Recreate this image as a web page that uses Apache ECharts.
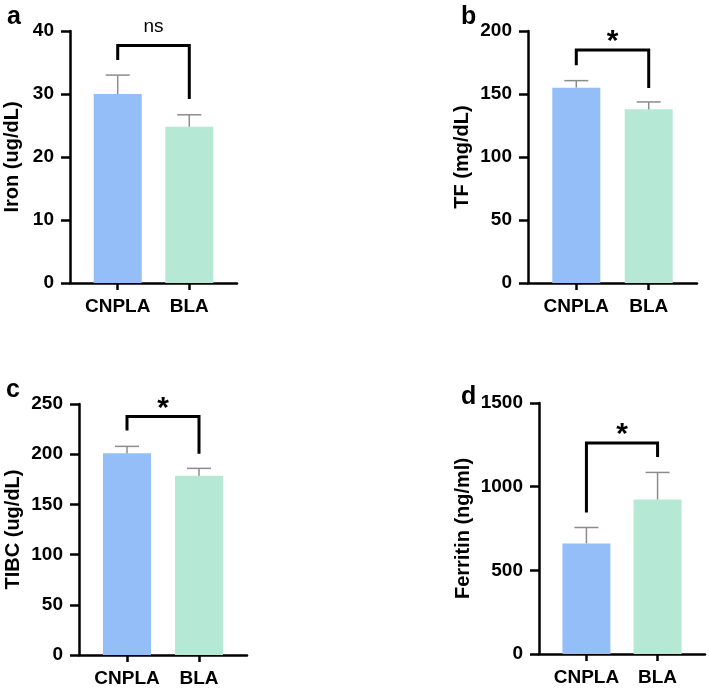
<!DOCTYPE html>
<html>
<head>
<meta charset="utf-8">
<script src="https://cdn.jsdelivr.net/npm/echarts@6/dist/echarts.min.js"></script>
<style>
  html, body { margin: 0; padding: 0; background: #fff; }
  #main { width: 709px; height: 688px; }
</style>
</head>
<body>
<div id="main"></div>
<script>
// 数据
var categories = ["CNPLA", "BLA"];
var xSlots = [2, 5]; // 类别在x轴上的位置 (0-7)
var barColors = ["#93bef7", "#b5e9d6"];

var ironMean = [30.0, 24.8];
var ironUpper = [33.0, 26.7];
var tfMean = [155, 137.8];
var tfUpper = [160.6, 143.7];
var tibcMean = [201, 178.6];
var tibcUpper = [207.8, 185.9];
var ferritinMean = [661, 923];
var ferritinUpper = [756, 1085];

// 显著性括号: [顶部, 左端, 右端]
var ironBracket = [37.7, 35.4, 29.2];
var tfBracket = [185, 172.8, 154.8];
var tibcBracket = [237.6, 223.7, 200.5];
var ferritinBracket = [1261, 846, 1178];
var sigLabels = ["ns", "*", "*", "*"];

var yMax = [40, 200, 250, 1500];
var yInterval = [10, 50, 50, 500];
var yNames = ["Iron (ug/dL)", "TF (mg/dL)", "TIBC (ug/dL)", "Ferritin (ng/ml)"];
var panelLetters = ["a", "b", "c", "d"];

var font = "'Liberation Sans', Arial, sans-serif";

var chartDom = document.getElementById("main");
var myChart = echarts.init(chartDom);
var option;

var grids = [
  { left: 70, top: 31, width: 167, height: 252 },
  { left: 528, top: 31, width: 169, height: 252 },
  { left: 79, top: 404, width: 168, height: 251 },
  { left: 539, top: 403, width: 166, height: 251 },
];
var nameGaps = [48, 56, 56, 66];
var letterPos = [
  { left: 2, top: 0 },
  { left: 456, top: 0 },
  { left: 1, top: 373 },
  { left: 456, top: 380 },
];

var means = [ironMean, tfMean, tibcMean, ferritinMean];
var uppers = [ironUpper, tfUpper, tibcUpper, ferritinUpper];
var brackets = [ironBracket, tfBracket, tibcBracket, ferritinBracket];

var axisLineStyle = { color: "#000", width: 2.5 };

var xAxes = [];
var yAxes = [];
var series = [];
var titles = [];

for (var p = 0; p < 4; p++) {
  xAxes.push({
    gridIndex: p,
    type: "value",
    min: 0,
    max: 7,
    axisLine: { show: true, onZero: false, lineStyle: axisLineStyle },
    axisTick: { show: true, customValues: xSlots, length: 7, lineStyle: axisLineStyle },
    axisLabel: {
      customValues: xSlots,
      margin: 14,
      color: "#000",
      fontSize: 19,
      fontWeight: "bold",
      fontFamily: font,
      formatter: function (v) {
        return categories[xSlots.indexOf(v)] || "";
      },
    },
    splitLine: { show: false },
  });
  yAxes.push({
    gridIndex: p,
    type: "value",
    min: 0,
    max: yMax[p],
    interval: yInterval[p],
    name: yNames[p],
    nameLocation: "middle",
    nameGap: nameGaps[p],
    nameTextStyle: { color: "#000", fontSize: 20, fontWeight: "bold", fontFamily: font },
    axisLine: { show: true, lineStyle: axisLineStyle },
    axisTick: { show: true, length: 9, lineStyle: axisLineStyle },
    axisLabel: {
      margin: 16,
      color: "#000",
      fontSize: 19,
      fontWeight: "bold",
      fontFamily: font,
      formatter: function (v) {
        return String(v);
      },
    },
    splitLine: { show: false },
  });
  titles.push({
    text: panelLetters[p],
    left: letterPos[p].left,
    top: letterPos[p].top,
    textStyle: { color: "#000", fontSize: 25, fontWeight: "bold", fontFamily: font },
  });

  var m = means[p];
  var u = uppers[p];
  series.push({
    type: "bar",
    xAxisIndex: p,
    yAxisIndex: p,
    barWidth: 48,
    data: xSlots.map(function (x, i) {
      return { value: [x, m[i]], itemStyle: { color: barColors[i] } };
    }),
  });
  series.push({
    type: "custom",
    xAxisIndex: p,
    yAxisIndex: p,
    z: 3,
    renderItem: function (params, api) {
      var p0 = api.coord([api.value(0), api.value(1)]);
      var p1 = api.coord([api.value(0), api.value(2)]);
      var style = { stroke: "#8c8c8c", lineWidth: 1.5 };
      return {
        type: "group",
        children: [
          { type: "line", shape: { x1: p0[0], y1: p0[1], x2: p1[0], y2: p1[1] }, style: style },
          { type: "line", shape: { x1: p1[0] - 12, y1: p1[1], x2: p1[0] + 12, y2: p1[1] }, style: style },
        ],
      };
    },
    encode: { x: 0, y: [1, 2] },
    data: xSlots.map(function (x, i) {
      return [x, m[i], u[i]];
    }),
  });
  var b = brackets[p];
  series.push({
    type: "custom",
    xAxisIndex: p,
    yAxisIndex: p,
    z: 4,
    clip: false,
    renderItem: (function (label) {
      return function (params, api) {
        var x1 = api.value(0), x2 = api.value(1);
        var top = api.value(2);
        var a = api.coord([x1, api.value(3)]);
        var c = api.coord([x1, top]);
        var d = api.coord([x2, top]);
        var e = api.coord([x2, api.value(4)]);
        var isNs = label === "ns";
        return {
          type: "group",
          children: [
            {
              type: "polyline",
              shape: { points: [a, c, d, e] },
              style: { stroke: "#000", lineWidth: 3, fill: null },
            },
            {
              type: "text",
              x: (c[0] + d[0]) / 2,
              y: c[1] - (isNs ? 19 : 8),
              style: {
                text: label,
                fill: "#000",
                font: (isNs ? "normal 19px " : "bold 30px ") + font,
                align: "center",
                verticalAlign: "middle",
              },
            },
          ],
        };
      };
    })(sigLabels[p]),
    encode: { x: [0, 1], y: [2, 3, 4] },
    data: [[xSlots[0], xSlots[1], b[0], b[1], b[2]]],
  });
}

option = {
  animation: false,
  title: titles,
  grid: grids,
  xAxis: xAxes,
  yAxis: yAxes,
  series: series,
};
option && myChart.setOption(option);
</script>
</body>
</html>
